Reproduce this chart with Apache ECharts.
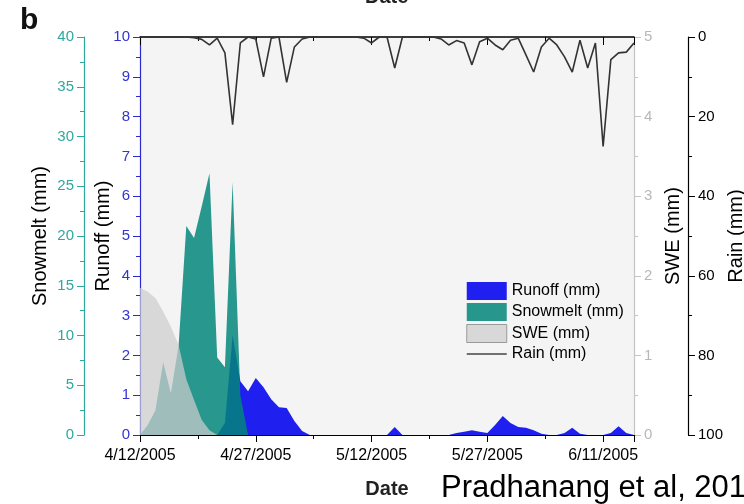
<!DOCTYPE html>
<html><head><meta charset="utf-8">
<script src="https://cdn.jsdelivr.net/npm/echarts@6/dist/echarts.min.js"></script>
<style>html,body{margin:0;padding:0;background:#fff}#c{width:744px;height:504px}</style>
</head><body><div id="c"></div>
<script>
// day offsets from 4/12/2005
const days = [0,1,2,3,4,5,6,7,8,9,10,11,12,13,14,15,16,17,18,19,20,21,22,23,24,25,26,27,28,29,30,31,32,33,34,35,36,37,38,39,40,41,42,43,44,45,46,47,48,49,50,51,52,53,54,55,56,57,58,59,60,61,62,63,64];
const xTickLabels = ['4/12/2005','4/27/2005','5/12/2005','5/27/2005','6/11/2005'];
// Runoff (mm)
const runoff = [0,0,0,0,0,0,0,0,0,0,0,0.3,2.5,1.35,1.1,1.43,1.2,0.9,0.7,0.68,0.35,0.1,0,0,0,0,0,0,0,0,0,0,0,0.2,0,0,0,0,0,0,0,0.05,0.08,0.12,0.08,0.05,0.25,0.48,0.3,0.2,0.18,0.12,0.03,0,0,0.05,0.18,0.03,0,0,0,0.05,0.22,0.05,0];
// Snowmelt (mm)
const snowmelt = [0,1.0,2.5,7.3,4.2,9.0,21.0,19.8,23.0,26.3,7.8,6.8,25.4,4.0,0,0,0,0,0,0,0,0,0,0,0,0,0,0,0,0,0,0,0,0,0,0,0,0,0,0,0,0,0,0,0,0,0,0,0,0,0,0,0,0,0,0,0,0,0,0,0,0,0,0,0];
// SWE (mm)
const swe = [1.85,1.8,1.72,1.55,1.36,1.13,0.7,0.44,0.19,0.06,0,0,0,0,0,0,0,0,0,0,0,0,0,0,0,0,0,0,0,0,0,0,0,0,0,0,0,0,0,0,0,0,0,0,0,0,0,0,0,0,0,0,0,0,0,0,0,0,0,0,0,0,0,0,0];
// Rain (mm)
const rain = [0,0,0,0,0,0,0,0.2,0.6,2.0,0.3,4.0,22,1.5,0,0.5,10,0.3,0,11.4,2.5,0.5,0,0,0,0,0,0,0,0.3,1.5,0,0,7.8,0,0,0,0,0,0.5,2.0,0.9,1.5,7.0,1.2,0.3,2.0,3.2,0.8,0.3,4.5,8.8,2.5,0.3,2.0,5.0,8.8,0.8,7.8,1.5,27.5,5.7,4.0,3.8,1.5];

const pairs = arr => days.map((d,i)=>[d, arr[i]]);
const FONT = 'Liberation Sans, Arial, sans-serif';
const C_RUN = '#1f1ff0', C_SNOW = '#27968c', C_SWE = '#d4d4d4';

const chart = echarts.init(document.getElementById('c'), null, {renderer:'canvas'});
function yAx(o){
  return Object.assign({
    type:'value', nameLocation:'middle', nameRotate:90, nameMoveOverlap:false,
    splitLine:{show:false},
    axisLine:{show:true, onZero:false, lineStyle:{color:o.lc, width:1.2}},
    axisTick:{show:true, length:7, lineStyle:{color:o.lc}},
    minorTick:{show:true, splitNumber:2, length:4, lineStyle:{color:o.lc}},
    axisLabel:{color:o.tc, fontSize:15, fontFamily:FONT, margin:10},
    nameTextStyle:{color:'#000', fontSize:20, fontFamily:FONT}
  }, o.rest);
}
chart.setOption({
  animation:false,
  backgroundColor:'#fff',
  textStyle:{fontFamily:FONT},
  grid:{left:140, right:110, top:37, bottom:69, show:true, backgroundColor:'#f4f4f4', borderWidth:0,
        containLabel:false, outerBoundsMode:'none'},
  xAxis:[
    {type:'value', position:'bottom', min:0, max:64, interval:15,
     name:'Date', nameLocation:'middle', nameGap:44, nameMoveOverlap:false,
     nameTextStyle:{color:'#222', fontSize:20, fontWeight:'bold', fontFamily:FONT},
     axisLine:{onZero:false, lineStyle:{color:'#000', width:1.2}},
     axisTick:{length:7, lineStyle:{color:'#000'}},
     minorTick:{show:true, splitNumber:2, length:4, lineStyle:{color:'#000'}},
     splitLine:{show:false},
     axisLabel:{color:'#000', fontSize:16, fontFamily:FONT, margin:13,
       formatter:v => (v % 15 === 0 && xTickLabels[v/15]) ? xTickLabels[v/15] : ''}},
    {type:'value', position:'top', min:0, max:64, interval:15,
     axisLine:{onZero:false, lineStyle:{color:'#000', width:1.5}},
     axisTick:{inside:true, length:8, lineStyle:{color:'#000'}},
     minorTick:{show:true, splitNumber:2, length:4, lineStyle:{color:'#000'}},
     splitLine:{show:false}, axisLabel:{show:false}}
  ],
  yAxis:[
    yAx({lc:'#2a2ad0', tc:'#3434d4', rest:{name:'Runoff (mm)', position:'left', offset:0, min:0, max:10, interval:1, nameGap:27}}),
    yAx({lc:'#2fa89d', tc:'#2fa89d', rest:{name:'Snowmelt (mm)', position:'left', offset:56, min:0, max:40, interval:5, nameGap:34}}),
    yAx({lc:'#c4c4c4', tc:'#b8b8b8', rest:{name:'SWE (mm)', position:'right', offset:0, min:0, max:5, interval:1, nameGap:29}}),
    yAx({lc:'#000', tc:'#000', rest:{name:'Rain (mm)', position:'right', offset:54, min:0, max:100, interval:20, inverse:true, nameGap:38}})
  ],
  legend:{orient:'vertical', left:466, top:282, padding:0, itemWidth:40, itemHeight:18, itemGap:3, selectedMode:false,
    textStyle:{fontSize:16, color:'#000', fontFamily:FONT},
    data:[
      {name:'Runoff (mm)', icon:'rect', itemStyle:{color:C_RUN}},
      {name:'Snowmelt (mm)', icon:'rect', itemStyle:{color:C_SNOW}},
      {name:'SWE (mm)', icon:'rect', itemStyle:{color:'#d8d8d8', borderColor:'#9a9a9a', borderWidth:1}},
      {name:'Rain (mm)', itemStyle:{opacity:0}, lineStyle:{color:'#444', width:1.5}}
    ]},
  series:[
    {name:'Runoff (mm)', type:'line', xAxisIndex:0, yAxisIndex:0, data:pairs(runoff), symbol:'none', color:C_RUN,
     lineStyle:{width:0}, areaStyle:{color:C_RUN, opacity:1}},
    {name:'Snowmelt (mm)', type:'line', xAxisIndex:0, yAxisIndex:1, data:pairs(snowmelt), symbol:'none', color:C_SNOW,
     lineStyle:{width:0}, areaStyle:{color:'#03867b', opacity:0.85}},
    {name:'SWE (mm)', type:'line', xAxisIndex:0, yAxisIndex:2, data:pairs(swe), symbol:'none', color:C_SWE,
     lineStyle:{width:0}, areaStyle:{color:'#cdcdcd', opacity:0.72}},
    {name:'Rain (mm)', type:'line', xAxisIndex:0, yAxisIndex:3, data:pairs(rain), symbol:'none', color:'#333',
     lineStyle:{color:'#333', width:1.6}}
  ],
  graphic:[
    {type:'text', left:20, top:6, style:{text:'b', font:'bold 30px '+FONT, fill:'#111'}},
    {type:'text', left:365, top:-13, style:{text:'Date', font:'bold 20px '+FONT, fill:'#222'}},
    {type:'text', left:441, top:473, style:{text:'Pradhanang et al, 201', font:'31px '+FONT, fill:'#000'}}
  ]
});
</script></body></html>
